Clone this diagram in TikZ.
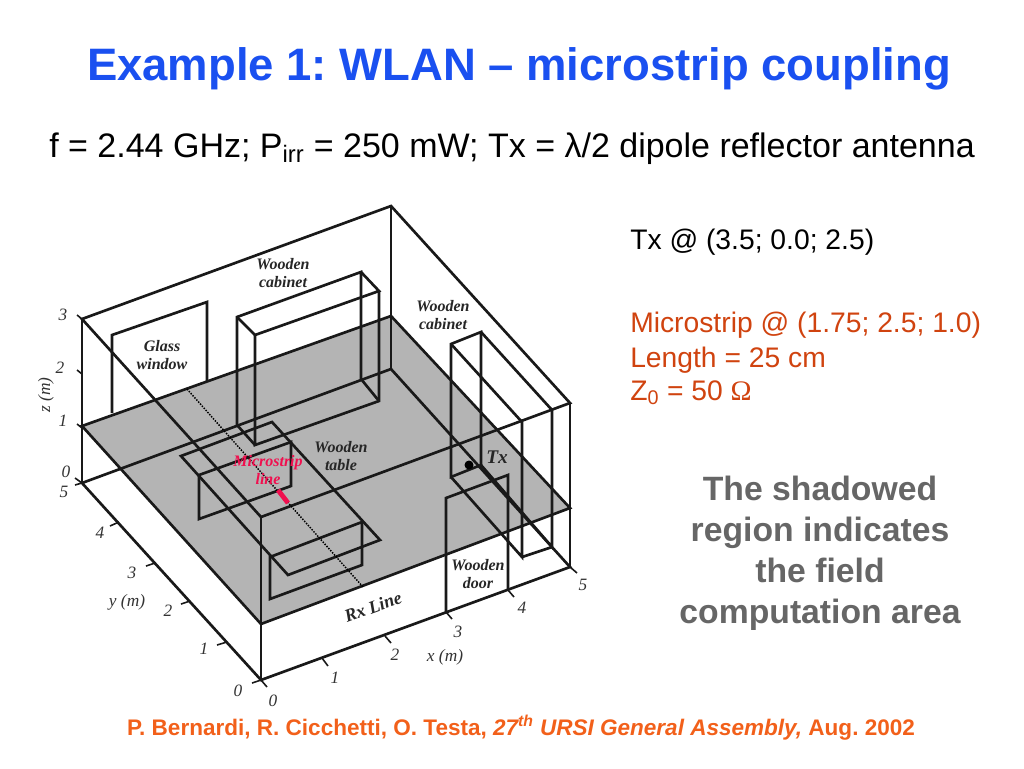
\documentclass[tikz,border=0pt]{standalone}
\usepackage{xcolor}
\usepackage{tikz}
\usepackage{fontspec}
\setmainfont{Liberation Sans}
\newfontfamily\figfont{Liberation Serif}
\frenchspacing
\definecolor{titlecolor}{HTML}{1A50F0}
\definecolor{orangecolor}{HTML}{D0430F}
\definecolor{footcolor}{HTML}{F2601A}
\definecolor{notecolor}{HTML}{666666}
\definecolor{planecolor}{HTML}{B4B4B4}
\definecolor{stripcolor}{HTML}{F0104F}
\tikzset{
  wire/.style={draw=black!90, line width=2pt, line join=miter},
  tick/.style={draw=black!90, line width=1.2pt},
  figlabel/.style={font=\figfont\itshape\bfseries\fontsize{12}{13.5}\selectfont, align=center, inner sep=0pt, text=black!85},
  axislabel/.style={font=\figfont\itshape\fontsize{13}{15}\selectfont, inner sep=0pt, text=black!80},
  sidetext/.style={anchor=base west, inner sep=0pt, font=\fontsize{21.2}{25}\selectfont},
}

\begin{document}
\begin{tikzpicture}[x=0.75pt, y=-0.75pt]%
\useasboundingbox (0,0) rectangle (1024,768);%
\coordinate (bl) at (82,483);%
\coordinate (bb) at (391,369);%
\coordinate (br) at (570,567);%
\coordinate (bf) at (261,680);%
\coordinate (tl) at (82,319);%
\coordinate (tb) at (391,206);%
\coordinate (tr) at (570,403);%
\coordinate (tf) at (261,517);%
\fill[planecolor] (82,426) -- (391,316) -- (570,508) -- (261,624) -- cycle;%
\draw[wire] (82,426) -- (391,316) -- (570,508) -- (261,624) -- cycle;%
\draw[wire] (tl) -- (tb) -- (tr) -- (tf) -- cycle;%
\draw[wire] (bl) -- (bb) -- (br) -- (bf) -- cycle;%
\draw[wire] (tl) -- (bl);%
\draw[wire] (tb) -- (bb);%
\draw[wire] (tr) -- (br);%
\draw[wire] (tf) -- (bf);%
\draw[wire] (112,413) -- (112,335) -- (207,302) -- (207,382);%
\draw[wire] (237,425) -- (237,317) -- (361,272) -- (361,379);%
\draw[wire] (237,317) -- (255,335) -- (379,291) -- (361,272);%
\draw[wire] (255,335) -- (255,445) -- (379,401) -- (379,291);%
\draw[wire] (237,425) -- (255,445);%
\draw[wire] (361,379) -- (379,401);%
\draw[wire] (181,456) -- (272,422) -- (380,540) -- (288,575) -- cycle;%
\draw[wire] (199,475) -- (291,442) -- (291,486) -- (199,519) -- cycle;%
\draw[wire] (270,557) -- (362,522) -- (362,565) -- (270,599) -- cycle;%
\draw[wire] (451,477) -- (451,344) -- (481,332) -- (481,465) -- cycle;%
\draw[wire] (451,344) -- (522,422) -- (522,557) -- (451,477);%
\draw[wire] (481,332) -- (552,410) -- (552,547) -- (481,465);%
\draw[wire] (522,557) -- (552,547);%
\draw[wire] (446,612) -- (446,498) -- (508,475) -- (508,590);%
\draw[black, densely dotted, line width=1.1pt] (187,389) -- (363,587);%
\draw[stripcolor, line width=3.6pt] (278,490) -- (288,503);%
\fill[black] (469,465) circle (4.5);%
\draw[tick] (77,315) -- (tl);%
\draw[tick] (77,370) -- (82,374);%
\draw[tick] (77,424) -- (82,428);%
\draw[tick] (75,478) -- (bl);%
\draw[tick] (75,485) -- (bl);%
\draw[tick] (110,526) -- (119,522);%
\draw[tick] (146,566) -- (155,563);%
\draw[tick] (181,604) -- (190,601);%
\draw[tick] (217,645) -- (227,642);%
\draw[tick] (252,683) -- (bf);%
\draw[tick] (bf) -- (267,687);%
\draw[tick] (322,658) -- (328,666);%
\draw[tick] (385,636) -- (391,643);%
\draw[tick] (446,612) -- (452,619);%
\draw[tick] (508,590) -- (514,597);%
\draw[tick] (br) -- (577,573);%
\node[axislabel] (z3) at (63,315) {3};%
\node[axislabel] (z2) at (60,368) {2};%
\node[axislabel] (z1) at (63,421) {1};%
\node[axislabel] (z0) at (66,472) {0};%
\node[axislabel, rotate=90] (zm) at (46,395) {z (m)};%
\node[axislabel] (y5) at (64,492) {5};%
\node[axislabel] (y4) at (100,533) {4};%
\node[axislabel] (y3) at (132,573) {3};%
\node[axislabel] (ym) at (127,602) {y (m)};%
\node[axislabel] (y2) at (168,611) {2};%
\node[axislabel] (y1) at (204,649) {1};%
\node[axislabel] (y0) at (238,691) {0};%
\node[axislabel] (x0) at (273,701) {0};%
\node[axislabel] (x1) at (335,678) {1};%
\node[axislabel] (x2) at (395,655) {2};%
\node[axislabel] (x3) at (458,632) {3};%
\node[axislabel] (xm) at (445,657) {x (m)};%
\node[axislabel] (x4) at (522,608) {4};%
\node[axislabel] (x5) at (583,585) {5};%
\node[figlabel] (glass) at (162,355) {Glass\\window};%
\node[figlabel] (cabinetA) at (283,273) {Wooden\\cabinet};%
\node[figlabel] (cabinetB) at (443,315) {Wooden\\cabinet};%
\node[figlabel] (table) at (341,456) {Wooden\\table};%
\node[figlabel, text=stripcolor] (strip) at (268,470) {Microstrip\\line};%
\node[figlabel, font=\figfont\itshape\bfseries\fontsize{14.5}{16}\selectfont] (tx) at (497,457) {Tx};%
\node[figlabel] (door) at (478,574) {Wooden\\door};%
\node[figlabel, rotate=20, font=\figfont\itshape\bfseries\fontsize{13.5}{15}\selectfont] (rx) at (373,607) {Rx Line};%
\node[anchor=base, inner sep=0pt, text=titlecolor, font=\bfseries\fontsize{34.1}{40}\selectfont] (title) at (519,80) {Example 1: WLAN -- microstrip coupling};%
\node[anchor=base, inner sep=0pt, font=\fontsize{25.5}{30}\selectfont] (params) at (512,157) {f = 2.44 GHz; P\textsubscript{irr} = 250 mW; Tx = λ/2 dipole reflector antenna};%
\node[sidetext] (txpos) at (630,249) {Tx @ (3.5; 0.0; 2.5)};%
\node[sidetext, text=orangecolor] (stripa) at (630,332) {Microstrip @ (1.75; 2.5; 1.0)};%
\node[sidetext, text=orangecolor] (stripb) at (630,367) {Length = 25 cm};%
\node[sidetext, text=orangecolor] (stripc) at (630,400) {Z\textsubscript{0} = 50 {\figfont Ω}};%
\node[inner sep=0pt, align=center, text=notecolor, font=\bfseries\fontsize{25.3}{30.7}\selectfont] (note) at (820,553) {The shadowed\\region indicates\\the field\\computation area};%
\node[anchor=base, inner sep=0pt, text=footcolor, font=\bfseries\fontsize{16.9}{20}\selectfont] (foot) at (521,735) {P. Bernardi, R. Cicchetti, O. Testa, \textit{27\textsuperscript{th} URSI General Assembly,} Aug. 2002};%
\end{tikzpicture}
\end{document}
